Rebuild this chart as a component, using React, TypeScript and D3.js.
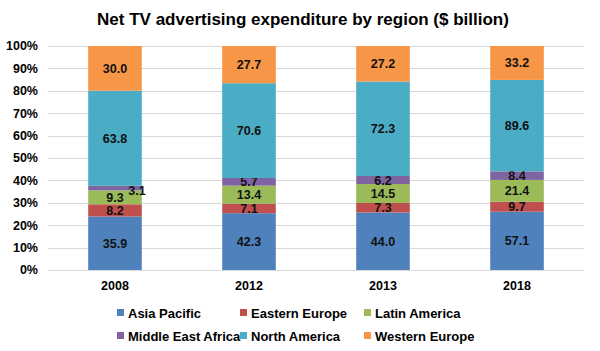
import React, { useEffect, useRef } from 'react';
import * as d3 from 'd3';

const years = ['2008', '2012', '2013', '2018'];
const regions = ['Asia Pacific', 'Eastern Europe', 'Latin America', 'Middle East Africa', 'North America', 'Western Europe'];
const colors = ['#4f81bd', '#c0504d', '#9bbb59', '#8064a2', '#4bacc6', '#f79646'];

const asiaPacific = [35.9, 42.3, 44.0, 57.1];
const easternEurope = [8.2, 7.1, 7.3, 9.7];
const latinAmerica = [9.3, 13.4, 14.5, 21.4];
const middleEastAfrica = [3.1, 5.7, 6.2, 8.4];
const northAmerica = [63.8, 70.6, 72.3, 89.6];
const westernEurope = [30.0, 27.7, 27.2, 33.2];

const seriesValues = [asiaPacific, easternEurope, latinAmerica, middleEastAfrica, northAmerica, westernEurope];

const App: React.FC = () => {
  const svgRef = useRef<SVGSVGElement>(null);

  useEffect(() => {
    if (!svgRef.current) return;
    const svg = d3.select(svgRef.current);
    svg.selectAll('*').remove();

    const width = 600;
    const height = 351;
    const margin = { top: 46, right: 16, bottom: 81, left: 48 };
    const font = '"Liberation Sans", Arial, sans-serif';

    svg.attr('width', width).attr('height', height).style('font-family', font);

    // title
    svg.append('text')
      .attr('x', 303)
      .attr('y', 25)
      .attr('text-anchor', 'middle')
      .style('font-size', '17px')
      .style('font-weight', 'bold')
      .style('fill', '#000')
      .text('Net TV advertising expenditure by region ($ billion)');

    const chartWidth = width - margin.left - margin.right;
    const chartHeight = height - margin.top - margin.bottom;

    const g = svg.append('g').attr('transform', `translate(${margin.left}, ${margin.top})`);

    const x = d3.scaleBand().domain(years).range([0, chartWidth]).paddingInner(0.6).paddingOuter(0.3);
    const y = d3.scaleLinear().domain([0, 1]).range([chartHeight, 0]);

    // gridlines
    const ticks = d3.range(0, 1.0001, 0.1);
    g.selectAll('.grid')
      .data(ticks)
      .enter()
      .append('line')
      .attr('x1', 0)
      .attr('x2', chartWidth)
      .attr('y1', d => Math.round(y(d)) + 0.5)
      .attr('y2', d => Math.round(y(d)) + 0.5)
      .attr('stroke', '#d9d9d9')
      .attr('stroke-width', 1);

    // y axis labels
    g.selectAll('.ylab')
      .data(ticks)
      .enter()
      .append('text')
      .attr('x', -10)
      .attr('y', d => y(d))
      .attr('dy', '0.35em')
      .attr('text-anchor', 'end')
      .style('font-size', '12.5px')
      .style('font-weight', 'bold')
      .style('fill', '#000')
      .text(d => `${Math.round(d * 100)}%`);

    // x axis labels
    g.selectAll('.xlab')
      .data(years)
      .enter()
      .append('text')
      .attr('x', d => (x(d) || 0) + x.bandwidth() / 2)
      .attr('y', chartHeight + 20)
      .attr('text-anchor', 'middle')
      .style('font-size', '12.5px')
      .style('font-weight', 'bold')
      .style('fill', '#000')
      .text(d => d);

    // stacked data (normalized)
    const rows = years.map((yr, i) => {
      const row: any = { year: yr };
      regions.forEach((r, k) => { row[r] = seriesValues[k][i]; });
      return row;
    });
    const stack = d3.stack<any>().keys(regions).offset(d3.stackOffsetExpand);
    const stacked = stack(rows);

    stacked.forEach((layer, k) => {
      const lg = g.append('g');
      lg.selectAll('rect')
        .data(layer)
        .enter()
        .append('rect')
        .attr('x', d => x(d.data.year) || 0)
        .attr('y', d => y(d[1]))
        .attr('width', x.bandwidth())
        .attr('height', d => y(d[0]) - y(d[1]))
        .attr('fill', colors[k]);

      lg.selectAll('text')
        .data(layer)
        .enter()
        .append('text')
        .attr('x', (d, i) => (x(d.data.year) || 0) + x.bandwidth() / 2 + (k === 3 && i === 0 ? 22 : 0))
        .attr('y', (d, i) => (y(d[0]) + y(d[1])) / 2 + (k === 3 && i === 0 ? 2 : 0))
        .attr('dy', '0.36em')
        .attr('text-anchor', 'middle')
        .style('font-size', '12.5px')
        .style('font-weight', 'bold')
        .style('fill', '#111')
        .text(d => (d.data[regions[k]] as number).toFixed(1));
    });

    // legend
    const legendCols = [120, 243, 367];
    const legendRows = [313, 336];
    regions.forEach((r, k) => {
      const lx = legendCols[k % 3];
      const ly = legendRows[Math.floor(k / 3)];
      svg.append('rect')
        .attr('x', lx - 3)
        .attr('y', ly - 4)
        .attr('width', 7)
        .attr('height', 7)
        .attr('fill', colors[k]);
      svg.append('text')
        .attr('x', lx + 8)
        .attr('y', ly)
        .attr('dy', '0.36em')
        .style('font-size', '13px')
        .style('font-weight', 'bold')
        .style('fill', '#000')
        .text(r);
    });
  }, []);

  return (
    <div style={{ position: 'absolute', left: 0, top: 0, width: 600, height: 351, background: '#fff' }}>
      <svg ref={svgRef}></svg>
    </div>
  );
};

export default App;
